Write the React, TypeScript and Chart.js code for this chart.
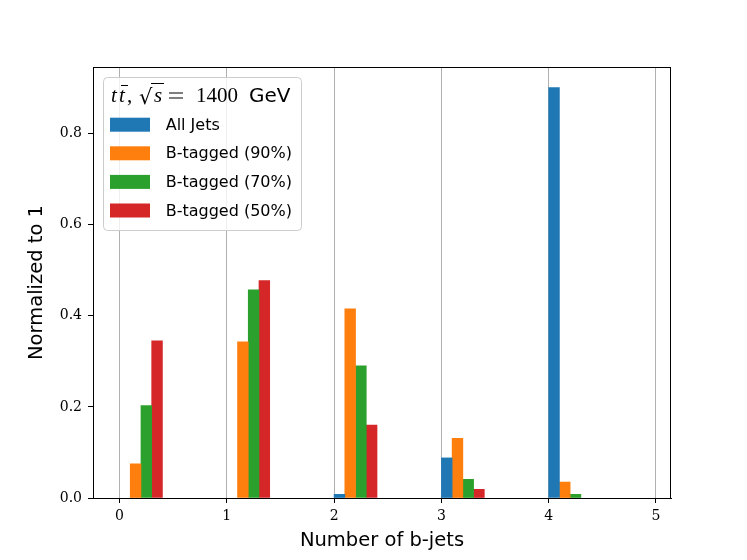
import { useEffect, useRef } from 'react';
import Chart from 'chart.js/auto';

// histogram bins (number of b-jets) and normalized fractions per selection
const bins = [0, 1, 2, 3, 4];
const allJets = [0, 0, 0.008, 0.088, 0.901];
const tagged90 = [0.075, 0.343, 0.415, 0.131, 0.035];
const tagged70 = [0.203, 0.457, 0.29, 0.041, 0.008];
const tagged50 = [0.345, 0.477, 0.16, 0.019, 0];

const seriesLabels = ['All Jets', 'B-tagged (90%)', 'B-tagged (70%)', 'B-tagged (50%)'];
const seriesColors = ['#1f77b4', '#ff7f0e', '#2ca02c', '#d62728'];
const seriesValues = [allJets, tagged90, tagged70, tagged50];

const xTicks = [0, 1, 2, 3, 4, 5];
const yTicks = [0, 0.2, 0.4, 0.6, 0.8];
const barWidth = 0.1;

const SERIF = '"DejaVu Serif"';
const SANS = '"DejaVu Sans"';

// frame on all four sides
const framePlugin = {
  id: 'frame',
  afterDatasetsDraw(chart: any) {
    const { ctx, chartArea } = chart;
    ctx.save();
    ctx.strokeStyle = '#000';
    ctx.lineWidth = 1;
    ctx.strokeRect(chartArea.left + 0.5, chartArea.top + 0.5,
      chartArea.right - chartArea.left - 1, chartArea.bottom - chartArea.top);
    ctx.restore();
  },
};

// legend inside the plot, upper left, with a math-style title
const legendPlugin = {
  id: 'insetLegend',
  afterDraw(chart: any) {
    const { ctx, chartArea } = chart;
    const x0 = chartArea.left + 10;
    const y0 = chartArea.top + 10;
    ctx.save();
    ctx.beginPath();
    ctx.roundRect(x0 + 0.5, y0 + 0.5, 198, 153, 4);
    ctx.fillStyle = 'rgba(255,255,255,0.8)';
    ctx.fill();
    ctx.strokeStyle = '#cccccc';
    ctx.lineWidth = 1;
    ctx.stroke();

    ctx.fillStyle = '#000';
    ctx.strokeStyle = '#000';
    ctx.textBaseline = 'alphabetic';
    ctx.textAlign = 'left';
    const by = y0 + 25;
    const italic = `italic 21px "Liberation Serif"`;
    const upright = `21px "Liberation Serif"`;
    ctx.font = italic;
    ctx.fillText('t', x0 + 8, by);
    ctx.fillText('t', x0 + 16, by);
    ctx.lineWidth = 1;
    ctx.beginPath();
    ctx.moveTo(x0 + 18, by - 16.5);
    ctx.lineTo(x0 + 25, by - 16.5);
    ctx.stroke();
    ctx.font = upright;
    ctx.fillText(',', x0 + 24, by);
    ctx.font = `21px ${SERIF}`;
    ctx.fillText('\u221A', x0 + 36, by + 2);
    ctx.beginPath();
    ctx.moveTo(x0 + 48, by - 18.5);
    ctx.lineTo(x0 + 61, by - 18.5);
    ctx.stroke();
    ctx.font = italic;
    ctx.fillText('s', x0 + 51, by);
    // wide math-style equals sign
    ctx.lineWidth = 1.2;
    ctx.beginPath();
    ctx.moveTo(x0 + 66, by - 9);
    ctx.lineTo(x0 + 80, by - 9);
    ctx.moveTo(x0 + 66, by - 4);
    ctx.lineTo(x0 + 80, by - 4);
    ctx.stroke();
    ctx.font = upright;
    ctx.fillText('1400', x0 + 93, by);
    ctx.font = `20px ${SANS}`;
    ctx.fillText('GeV', x0 + 146, by);

    ctx.textBaseline = 'middle';
    ctx.font = `16px ${SANS}`;
    chart.data.datasets.forEach((ds: any, i: number) => {
      const cy = y0 + 47.7 + i * 28.6;
      ctx.fillStyle = ds.backgroundColor;
      ctx.fillRect(x0 + 7, cy - 7, 40, 14);
      ctx.fillStyle = '#000';
      ctx.fillText(ds.label, x0 + 62.7, cy + 1);
    });
    ctx.restore();
  },
};

export default function App() {
  const canvasRef = useRef<HTMLCanvasElement>(null);
  const chartRef = useRef<Chart | null>(null);

  useEffect(() => {
    document.body.style.margin = '0';
    if (!canvasRef.current) return;
    const ctx = canvasRef.current.getContext('2d');
    if (!ctx) return;

    if (chartRef.current) chartRef.current.destroy();

    chartRef.current = new Chart(ctx, {
      type: 'bar',
      data: {
        datasets: seriesLabels.map((label, i) => ({
          label,
          // empty bins are left out so no hairline is drawn at zero
          data: bins.map((b, j) => ({
            x: b + barWidth * (i + 0.5),
            y: seriesValues[i][j] === 0 ? null : seriesValues[i][j],
          })),
          backgroundColor: seriesColors[i],
          borderWidth: 0,
          grouped: false,
          categoryPercentage: 1,
          barPercentage: 1,
        })),
      },
      options: {
        animation: false,
        responsive: false,
        devicePixelRatio: 1,
        layout: { padding: { left: 0, top: 67, right: 76, bottom: 0 } },
        plugins: {
          legend: { display: false },
          tooltip: { enabled: false },
        },
        scales: {
          x: {
            type: 'linear',
            offset: false,
            min: -0.247,
            max: 5.14,
            afterBuildTicks: (scale: any) => {
              scale.ticks = xTicks.map((v) => ({ value: v }));
            },
            afterFit: (scale: any) => {
              scale.height = 62;
            },
            ticks: {
              color: '#000',
              font: { family: SERIF, size: 14 },
              padding: 5,
              maxRotation: 0,
              callback: (v: any) => String(v),
            },
            grid: {
              offset: false,
              color: '#b0b0b0',
              lineWidth: 1,
              tickColor: '#000',
              tickLength: 5,
              drawOnChartArea: true,
            },
            border: { display: true, color: '#000', width: 1 },
            title: {
              display: true,
              text: 'Number of b-jets',
              color: '#000',
              font: { family: SANS, size: 19.5 },
              padding: { top: 0, bottom: 7 },
            },
          },
          y: {
            min: 0,
            max: 0.946,
            afterBuildTicks: (scale: any) => {
              scale.ticks = yTicks.map((v) => ({ value: v }));
            },
            afterFit: (scale: any) => {
              scale.width = 93;
            },
            ticks: {
              color: '#000',
              font: { family: SERIF, size: 14 },
              padding: 6,
              callback: (v: any) => Number(v).toFixed(1),
            },
            grid: {
              drawOnChartArea: false,
              tickColor: '#000',
              tickLength: 5,
            },
            border: { display: true, color: '#000', width: 1 },
            title: {
              display: true,
              text: 'Normalized to 1',
              color: '#000',
              font: { family: SANS, size: 19.5 },
              padding: { top: 25, bottom: 0 },
            },
          },
        },
      },
      plugins: [framePlugin, legendPlugin],
    } as any);

    return () => {
      if (chartRef.current) {
        chartRef.current.destroy();
        chartRef.current = null;
      }
    };
  }, []);

  return (
    <div style={{ width: 747, height: 560, background: '#fff' }}>
      <canvas ref={canvasRef} width={747} height={560} />
    </div>
  );
}
